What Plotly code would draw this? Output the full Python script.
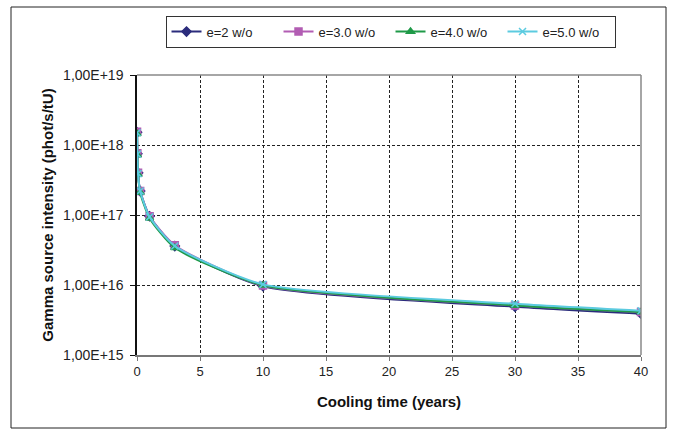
import plotly.graph_objects as go

# Cooling time (years)
t_years = [0.003, 0.027, 0.082, 0.25, 1, 3, 10, 30, 40]

series_names = ["e=2 w/o", "e=3.0 w/o", "e=4.0 w/o", "e=5.0 w/o"]
e2_vals = [1.52e18, 7.5e17, 4.0e17, 2.2e17, 9.6e16, 3.6e16, 9.6e15, 4.9e15, 3.9e15]
e3_vals = [1.55e18, 7.6e17, 4.0e17, 2.2e17, 9.6e16, 3.7e16, 9.8e15, 5.1e15, 4.1e15]
e4_vals = [1.45e18, 7.2e17, 3.8e17, 2.1e17, 9.0e16, 3.4e16, 9.9e15, 5.1e15, 4.1e15]
e5_vals = [1.50e18, 7.4e17, 3.9e17, 2.2e17, 9.4e16, 3.6e16, 1.02e16, 5.4e15, 4.3e15]

y_tickvals = [1e15, 1e16, 1e17, 1e18, 1e19]
y_ticktext = ["1,00E+15", "1,00E+16", "1,00E+17", "1,00E+18", "1,00E+19"]

colors = ["#2B2C7C", "#B25DB3", "#1F9A48", "#5CCBE0"]
symbols = ["diamond", "square", "triangle-up", "x-thin-open"]
values = [e2_vals, e3_vals, e4_vals, e5_vals]

fig = go.Figure()
for name, vals, c, s in zip(series_names, values, colors, symbols):
    fig.add_trace(go.Scatter(
        x=t_years, y=vals, name=name, mode="lines+markers",
        line=dict(color=c, width=2, shape="spline", smoothing=0.6),
        marker=dict(symbol=s, size=7, color=c, line=dict(color=c, width=1.5)),
    ))

fig.update_layout(
    width=675, height=435,
    margin=dict(l=137, r=34, t=75, b=80, autoexpand=False),
    paper_bgcolor="white", plot_bgcolor="white",
    font=dict(family="Liberation Sans, Arial", size=13, color="#222"),
    showlegend=True,
    legend=dict(orientation="h", x=0.503, xanchor="center", y=1.212, yanchor="top",
                bordercolor="#333", borderwidth=1, bgcolor="white",
                font=dict(size=13), itemwidth=30, tracegroupgap=0,
                entrywidth=67, entrywidthmode="pixels"),
)
fig.update_xaxes(
    range=[0, 40], dtick=5, tick0=0,
    showgrid=True, gridcolor="#222", griddash="3px,2px", gridwidth=1,
    showline=True, linecolor="#777", linewidth=1.5, mirror=False,
    ticks="outside", ticklen=4, tickcolor="#777",
    tickfont=dict(size=13),
    zeroline=False,
    title=dict(text="<b>Cooling time (years)</b>", font=dict(size=15, color="#111"), standoff=18),
)
fig.update_yaxes(
    type="log", range=[15, 19], tickvals=y_tickvals, ticktext=y_ticktext,
    showgrid=True, gridcolor="#222", griddash="3px,2px", gridwidth=1,
    showline=True, linecolor="#111", linewidth=1.5,
    ticks="outside", ticklen=5, tickcolor="#111",
    tickfont=dict(size=14), ticklabelstandoff=4,
    zeroline=False,
    title=dict(text="<b>Gamma source intensity (phot/s/tU)</b>", font=dict(size=15, color="#111"), standoff=6),
)
# plot-area border (top / right), gray
fig.add_shape(type="line", xref="paper", yref="paper", x0=0, x1=1, y0=1, y1=1,
              line=dict(color="#888", width=1.5))
fig.add_shape(type="line", xref="paper", yref="paper", x0=1, x1=1, y0=0, y1=1,
              line=dict(color="#888", width=1.5))
# chart outer frame
fig.add_shape(type="rect", xref="paper", yref="paper",
              x0=(11 - 137) / 504, x1=(666 - 137) / 504,
              y0=(355 - 428) / 280, y1=(355 - 7) / 280,
              line=dict(color="#222", width=1))

fig.write_html("out.html", config={"displayModeBar": False},
               post_script="document.body.style.margin='0';")
